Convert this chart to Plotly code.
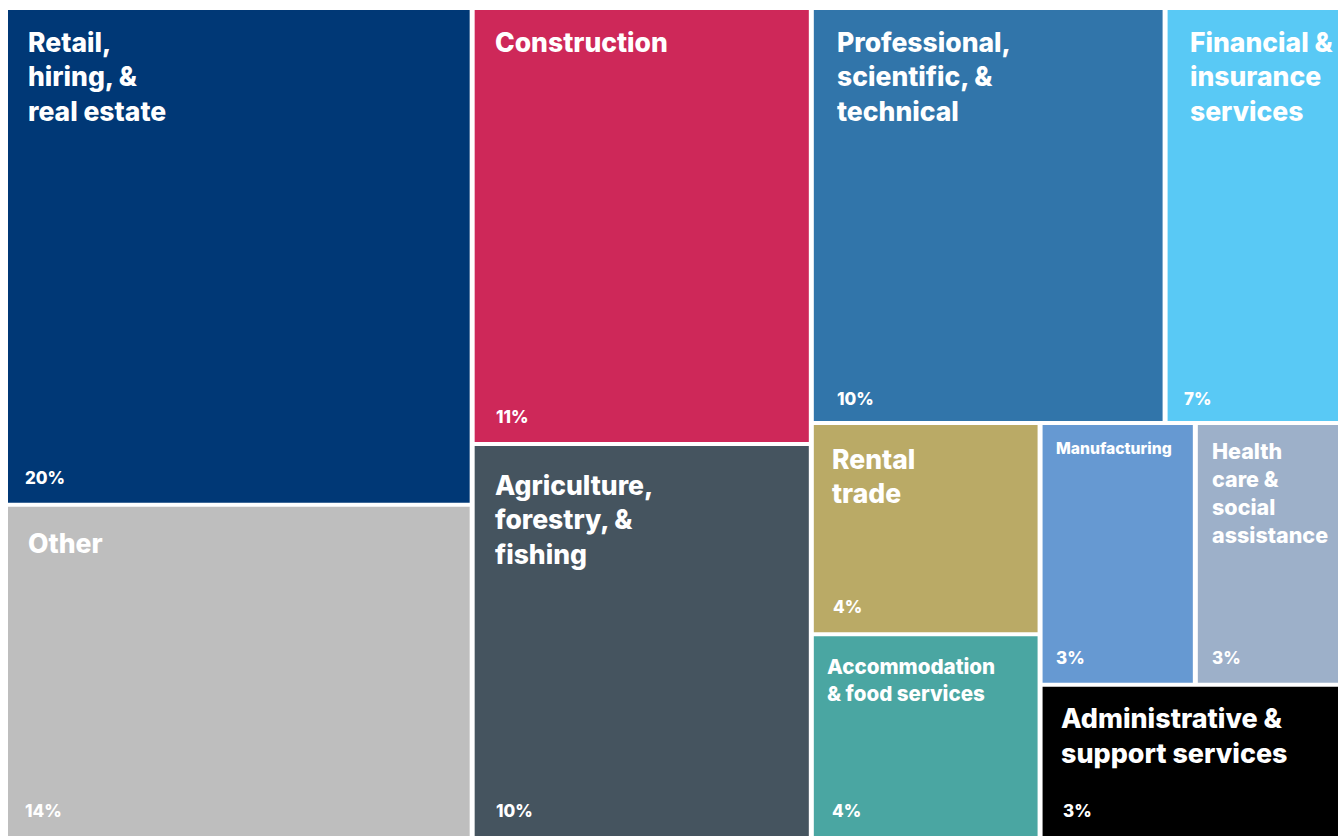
import plotly.graph_objects as go

# ---------------- data ----------------
sectors = [
    "Retail, hiring, & real estate", "Other", "Construction",
    "Agriculture, forestry, & fishing", "Professional, scientific, & technical",
    "Financial & insurance services", "Rental trade",
    "Accommodation & food services", "Manufacturing",
    "Health care & social assistance", "Administrative & support services",
]
label_lines = [
    "Retail,<br>hiring, &<br>real estate", "Other", "Construction",
    "Agriculture,<br>forestry, &<br>fishing", "Professional,<br>scientific, &<br>technical",
    "Financial &<br>insurance<br>services", "Rental<br>trade",
    "Accommodation<br>& food services", "Manufacturing",
    "Health<br>care &<br>social<br>assistance", "Administrative &<br>support services",
]
share_labels = ["20%", "14%", "11%", "10%", "10%", "7%", "4%", "4%", "3%", "3%", "3%"]
# relative tile size (share of the chart area)
tile_size = [20.9, 14.0, 13.4, 12.1, 13.3, 6.5, 4.4, 4.2, 3.7, 3.4, 4.1]
# nesting of the tiles (slice-and-dice, first level split left-to-right)
tile_tree = [[0, 1], [2, 3], [[4, 5], [[6, 7], [[8, 9], 10]]]]

# ---------------- style ----------------
colors = ["#003876", "#BEBEBE", "#CE2859", "#45545F", "#3175AA", "#59C9F5",
          "#BAAA66", "#4AA6A2", "#6699D2", "#9DB0C9", "#000000"]
label_size = [26.5, 26.5, 26.5, 26.5, 26.5, 26.5, 26.5, 20.6, 15.7, 21.5, 26.9]
label_pad_left = [19, 19, 19, 19, 22, 21, 17, 12, 12, 13, 17]
label_pad_top = [22, 27, 22, 29, 22, 22, 24, 22, 17, 18, 21]
pct_pad_left = [16, 16, 20, 20, 22, 15, 18, 17, 12, 13, 19]
pct_pad_bottom = [13, 13, 13, 13, 10, 10, 13, 13, 13, 13, 13]
FONT = "Inter"
WEIGHT = 800
W, H = 1330, 826
GX, GY = 5, 4


def total(node):
    return tile_size[node] if isinstance(node, int) else sum(total(c) for c in node)


def place(node, x0, y0, x1, y1, horizontal, out):
    if isinstance(node, int):
        out[node] = (x0, y0, x1, y1)
        return
    s = total(node)
    pos = x0 if horizontal else y0
    for child in node:
        frac = total(child) / s
        if horizontal:
            w = (x1 - x0) * frac
            place(child, pos, y0, pos + w, y1, False, out)
            pos += w
        else:
            h = (y1 - y0) * frac
            place(child, x0, pos, x1, pos + h, True, out)
            pos += h


cells = {}
place(tile_tree, 0, 0, W, H, True, cells)

fig = go.Figure()
annotations = []
for i in range(len(sectors)):
    x0, y0, x1, y1 = cells[i]
    # leave a white gap on interior edges
    if x0 > 0.5:
        x0 += GX / 2
    if x1 < W - 0.5:
        x1 -= GX / 2
    if y0 > 0.5:
        y0 += GY / 2
    if y1 < H - 0.5:
        y1 -= GY / 2
    fig.add_trace(go.Scatter(
        x=[x0, x1, x1, x0, x0], y=[y0, y0, y1, y1, y0],
        fill="toself", fillcolor=colors[i], mode="lines",
        line=dict(width=0, color=colors[i]), hoverinfo="skip",
        name=sectors[i], showlegend=False,
    ))
    fs = label_size[i]
    annotations.append(dict(
        x=x0, y=y0, xref="x", yref="y", xanchor="left", yanchor="top",
        xshift=label_pad_left[i] - 1, yshift=-(label_pad_top[i] - 0.27 * fs - 1),
        text=label_lines[i], showarrow=False, align="left",
        font=dict(family=FONT, size=fs, color="white", weight=WEIGHT),
    ))
    annotations.append(dict(
        x=x0, y=y1, xref="x", yref="y", xanchor="left", yanchor="bottom",
        xshift=pct_pad_left[i] - 1, yshift=pct_pad_bottom[i],
        text=share_labels[i], showarrow=False, align="left",
        font=dict(family=FONT, size=17, color="white", weight=WEIGHT),
    ))

fig.update_layout(
    width=1338, height=836,
    margin=dict(l=8, r=0, t=10, b=0, pad=0),
    paper_bgcolor="white", plot_bgcolor="white",
    xaxis=dict(range=[0, W], visible=False, fixedrange=True),
    yaxis=dict(range=[H, 0], visible=False, fixedrange=True),
    annotations=annotations,
    showlegend=False,
)

fig.write_html("out.html", config={"displayModeBar": False},
               post_script="document.body.style.margin='0';document.body.style.overflow='hidden';")
